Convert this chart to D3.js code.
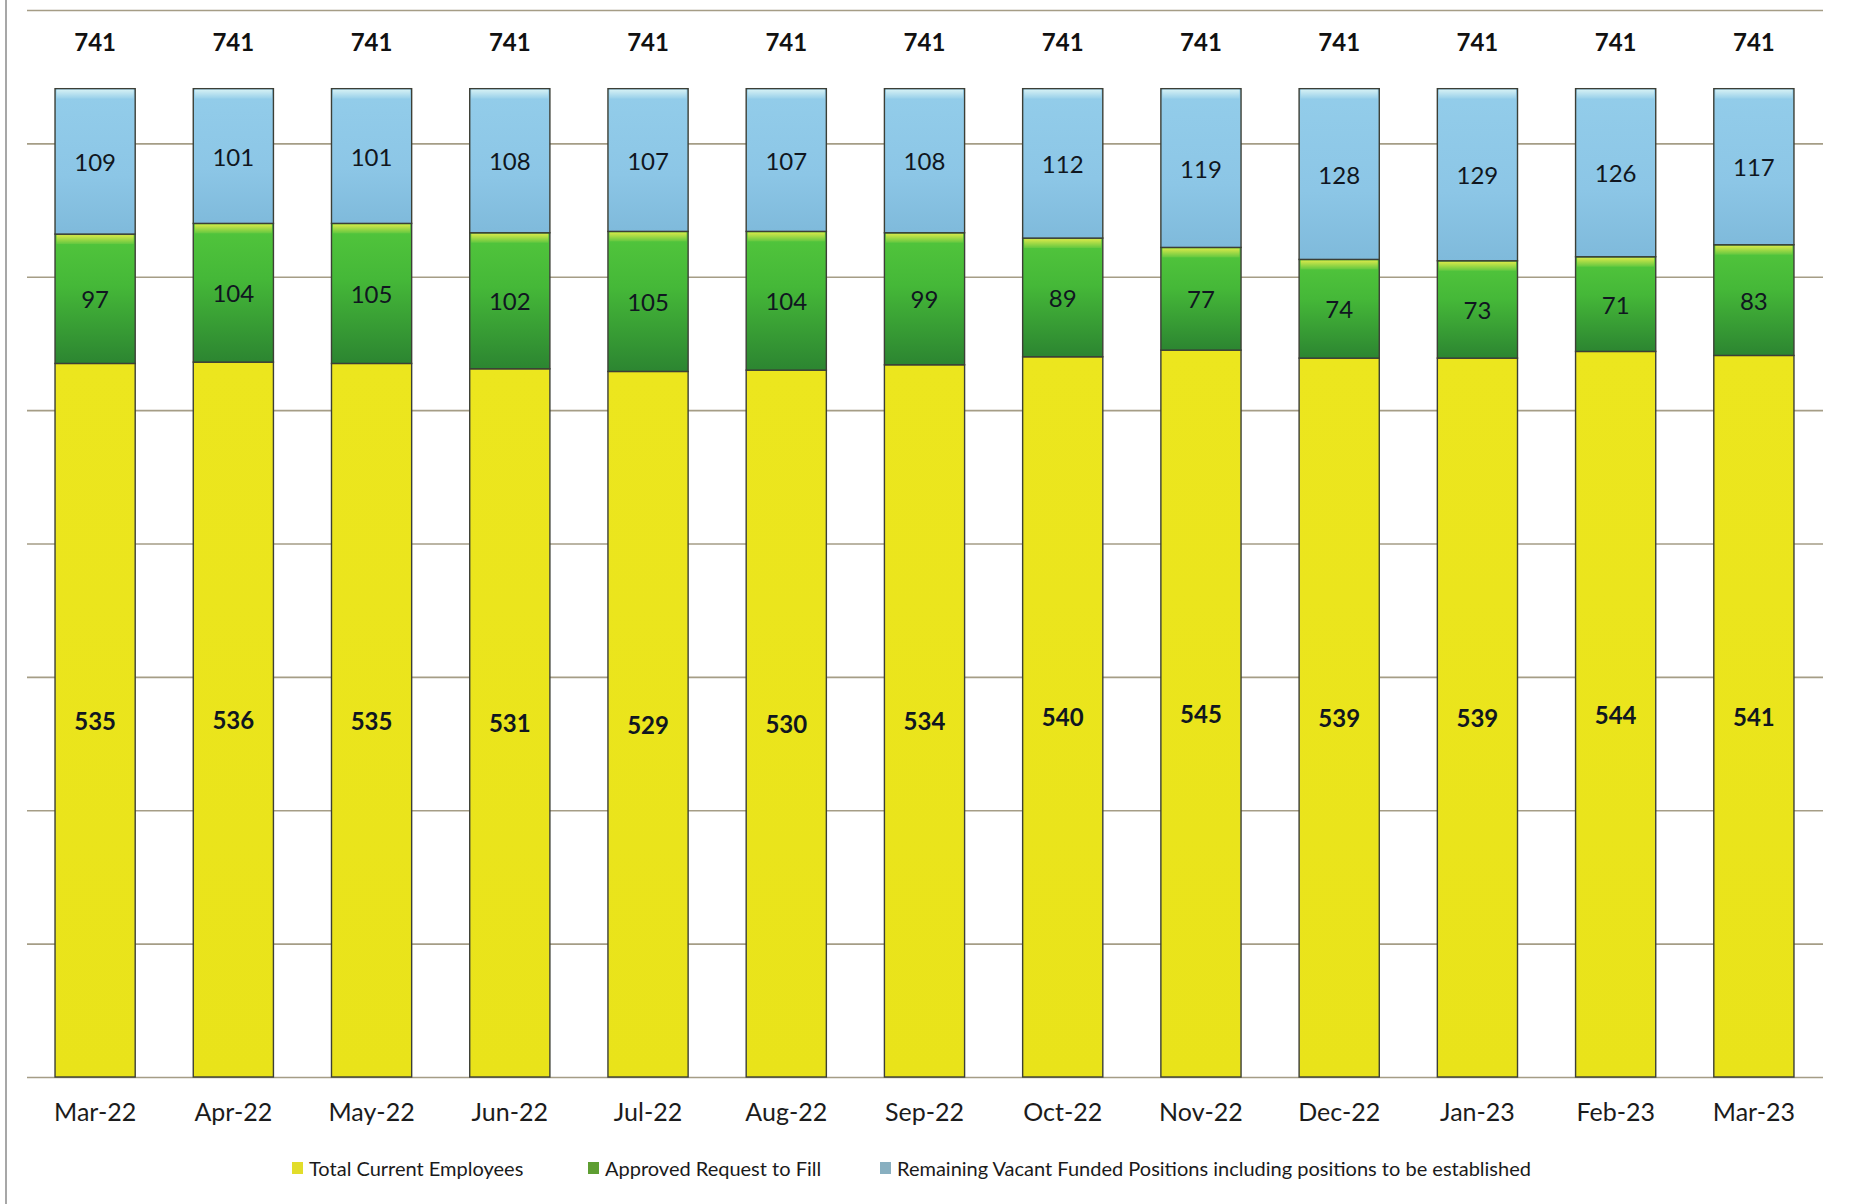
<!DOCTYPE html>
<html>
<head>
<meta charset="utf-8">
<script src="https://cdn.jsdelivr.net/npm/d3@7"></script>
<style>
  html, body { margin: 0; padding: 0; background: #ffffff; }
  svg { display: block; }
</style>
</head>
<body>
<svg id="chart" width="1851" height="1204"></svg>
<script>
const months = ["Mar-22","Apr-22","May-22","Jun-22","Jul-22","Aug-22","Sep-22","Oct-22","Nov-22","Dec-22","Jan-23","Feb-23","Mar-23"];
const currentEmployees = [535,536,535,531,529,530,534,540,545,539,539,544,541];
const approvedToFill = [97,104,105,102,105,104,99,89,77,74,73,71,83];
const remainingVacant = [109,101,101,108,107,107,108,112,119,128,129,126,117];
const totals = [741,741,741,741,741,741,741,741,741,741,741,741,741];
const seriesNames = ["Total Current Employees","Approved Request to Fill","Remaining Vacant Funded Positions including positions to be established"];
const yTicks = [0,100,200,300,400,500,600,700,800];

const svg = d3.select("#chart");
const font = "Lato, 'Open Sans', sans-serif";

// scales
const x = d3.scaleBand().domain(months).range([26, 1823]).paddingInner(0.42).paddingOuter(0.21);
const y = d3.scaleLinear().domain([0, 800]).range([1077, 10]);

// defs: gradients
const defs = svg.append("defs");
function vGrad(id, stops) {
  const g = defs.append("linearGradient").attr("id", id).attr("x1", 0).attr("y1", 0).attr("x2", 0).attr("y2", 1);
  stops.forEach(s => g.append("stop").attr("offset", s[0]).attr("stop-color", s[1]));
}
vGrad("gYellow", [[0, "#ece61e"], [1, "#e9e31a"]]);
vGrad("gGreen", [[0, "#52c63c"], [0.4, "#45b838"], [1, "#2c8531"]]);
vGrad("gBlue", [[0, "#93cdea"], [0.6, "#8cc6e6"], [1, "#7fbadb"]]);
vGrad("gGreenTop", [[0, "#d8e84a"], [1, "#62c840"]]);
vGrad("gBlueTop", [[0, "#d4f0f4"], [1, "#98d0ea"]]);

// left frame line
svg.append("line").attr("x1", 6).attr("x2", 6).attr("y1", 0).attr("y2", 1204)
  .attr("stroke", "#8a8a8a").attr("stroke-width", 1.5);

// gridlines via axis
const grid = svg.append("g").attr("transform", "translate(27,0)")
  .call(d3.axisLeft(y).tickValues(yTicks).tickSize(-(1823 - 27)).tickFormat(""));
grid.select(".domain").remove();
grid.selectAll(".tick line").attr("stroke", "#a59d86").attr("stroke-width", 1.6);

// stacked data
const rows = months.map((m, i) => ({ month: m, cur: currentEmployees[i], app: approvedToFill[i], rem: remainingVacant[i], total: totals[i] }));
const stack = d3.stack().keys(["cur", "app", "rem"]);
const layers = stack(rows);
const fills = ["url(#gYellow)", "url(#gGreen)", "url(#gBlue)"];
const tops = [null, "url(#gGreenTop)", "url(#gBlueTop)"];

const bw = x.bandwidth();
layers.forEach((layer, li) => {
  const g = svg.append("g");
  g.selectAll("rect.seg").data(layer).join("rect")
    .attr("class", "seg")
    .attr("x", d => x(d.data.month))
    .attr("y", d => y(d[1]))
    .attr("width", bw)
    .attr("height", d => y(d[0]) - y(d[1]))
    .attr("fill", fills[li])
    .attr("stroke", "#3c3f36")
    .attr("stroke-width", 1.4);
  if (tops[li]) {
    g.selectAll("rect.bevel").data(layer).join("rect")
      .attr("class", "bevel")
      .attr("x", d => x(d.data.month) + 1.5)
      .attr("y", d => y(d[1]) + 1)
      .attr("width", bw - 3)
      .attr("height", 9)
      .attr("fill", tops[li]);
  }
  g.selectAll("text").data(layer).join("text")
    .attr("x", d => x(d.data.month) + bw / 2)
    .attr("y", d => (y(d[0]) + y(d[1])) / 2)
    .attr("text-anchor", "middle")
    .attr("dominant-baseline", "central")
    .attr("font-family", font)
    .attr("font-size", 24)
    .attr("font-weight", li === 0 ? 700 : 400)
    .attr("fill", "#101620")
    .text(d => d[1] - d[0]);
});

// total labels
svg.append("g").selectAll("text").data(rows).join("text")
  .attr("x", d => x(d.month) + bw / 2)
  .attr("y", d => y(d.total) - 47)
  .attr("text-anchor", "middle")
  .attr("dominant-baseline", "central")
  .attr("font-family", font)
  .attr("font-size", 24)
  .attr("font-weight", 700)
  .attr("fill", "#111111")
  .text(d => d.total);

// x axis labels
const xa = svg.append("g").attr("transform", "translate(0,1077)")
  .call(d3.axisBottom(x).tickSize(0).tickPadding(26));
xa.select(".domain").remove();
xa.selectAll("text").attr("font-family", font).attr("font-size", 25).attr("fill", "#1c1c1c")
  .attr("dy", "0.71em");

// legend
const legendX = [292, 588, 880];
const legendColors = ["#e2dd2a", "#5e9e32", "#88afc0"];
const lg = svg.append("g");
seriesNames.forEach((name, i) => {
  lg.append("rect").attr("x", legendX[i]).attr("y", 1162).attr("width", 11).attr("height", 12)
    .attr("fill", legendColors[i]);
  lg.append("text").attr("x", legendX[i] + 17).attr("y", 1168)
    .attr("dominant-baseline", "central")
    .attr("font-family", font).attr("font-size", 20).attr("fill", "#1a1a1a")
    .text(name);
});
</script>
</body>
</html>
